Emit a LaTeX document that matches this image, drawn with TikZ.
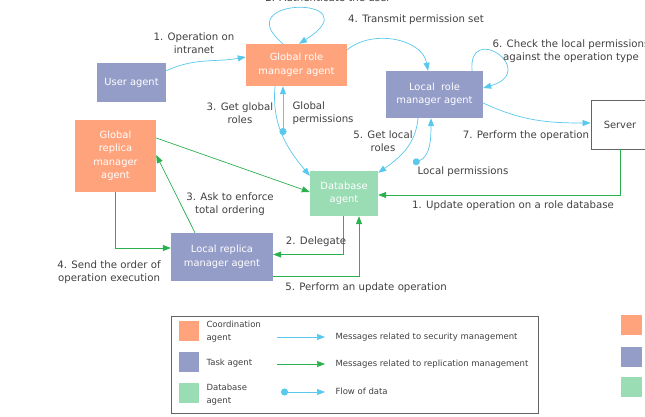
\documentclass[tikz,border=0pt]{standalone}
\usepackage{fontspec}
\setmainfont{DejaVu Sans}
\usetikzlibrary{arrows.meta, positioning}
\definecolor{coordorange}{RGB}{255,163,124}
\definecolor{taskblue}{RGB}{148,156,200}
\definecolor{dbgreen}{RGB}{154,220,180}
\definecolor{seccyan}{RGB}{88,200,236}
\definecolor{repgreen}{RGB}{42,176,78}
\definecolor{labelgray}{RGB}{64,64,64}
\definecolor{framegray}{RGB}{100,100,100}

\begin{document}
\begin{tikzpicture}[x=1pt, y=1pt,
    agent/.style={inner sep=0pt, align=center, text=white, font=\fontsize{9.9}{13.5}\selectfont},
    lbl/.style={text=labelgray, align=center, font=\fontsize{10.2}{13.5}\selectfont},
    leg/.style={text=labelgray, anchor=west, align=left, font=\fontsize{8.5}{13}\selectfont},
    sec/.style={seccyan, line width=0.7pt, -{Triangle[length=8pt, width=6pt]}},
    rep/.style={repgreen, line width=0.7pt, -{Triangle[length=8pt, width=6pt]}},
    data/.style={seccyan, line width=0.7pt, {Circle[length=7pt]}-{Triangle[length=8pt, width=6pt]}}]

    \useasboundingbox (0,0) rectangle (645,416);

    % Agents
    \node[agent, fill=taskblue, minimum width=69pt, minimum height=39pt] (user) at (131.5,333.5) {User agent};
    \node[agent, fill=coordorange, minimum width=101pt, minimum height=42pt] (grm) at (296.5,351) {Global role\\manager agent};
    \node[agent, fill=taskblue, minimum width=97pt, minimum height=47pt] (lrm) at (434.5,321.5) {Local \ role\\manager agent};
    \node[draw=framegray, fill=white, line width=0.8pt, minimum width=58pt, minimum height=49pt,
          text=labelgray, font=\fontsize{9.9}{12}\selectfont] (server) at (620,291.5) {Server};
    \node[agent, fill=coordorange, minimum width=81pt, minimum height=72pt] (grep) at (115.5,260) {Global\\replica\\manager\\agent};
    \node[agent, fill=dbgreen, minimum width=68pt, minimum height=45pt] (db) at (344,222.5) {Database\\agent};
    \node[agent, fill=taskblue, minimum width=102pt, minimum height=48pt] (lrep) at (222,159) {Local replica\\manager agent};

    % Data sources
    \coordinate (gperm) at (283,281);
    \coordinate (lperm) at (413,253);

    % Security management
    \draw[sec] ([yshift=-8pt]user.north east) to[out=25, in=190] ([yshift=8pt]grm.west);
    \draw[sec] ([xshift=-13.5pt]grm.north) .. controls +(-58,48) and +(76,48) .. ([xshift=2.5pt]grm.north);
    \draw[sec] ([yshift=-6pt]grm.north east) to[out=40, in=100] ([xshift=-6.5pt]lrm.north);
    \draw[sec] ([xshift=-21.5pt]grm.south) to[out=-95, in=130] ([yshift=-5pt]db.north west);
    \draw[data] (gperm) -- ([xshift=-13.5pt]grm.south);
    \draw[sec] ([xshift=-16.5pt]lrm.south) to[out=-95, in=35] ([yshift=-2pt]db.north east);
    \draw[data] (lperm) to[out=20, in=-90] ([xshift=-3.5pt]lrm.south);
    \draw[sec] ([xshift=37.5pt]lrm.north) .. controls +(-4,50) and +(57,17) .. ([yshift=6.5pt]lrm.east);
    \draw[sec] ([yshift=-8.5pt]lrm.east) to[out=-25, in=180] ([yshift=1.5pt]server.west);

    % Replication management
    \draw[rep] (server.south) |- ([yshift=-1.5pt]db.east);
    \draw[rep] ([yshift=18pt]grep.east) -- ([yshift=1.5pt]db.west);
    \draw[rep] ([xshift=-27pt]lrep.north) -- ([yshift=1pt]grep.east);
    \draw[rep] (grep.south) |- ([yshift=9pt]lrep.west);
    \draw[rep] ([xshift=-1pt]db.south) |- ([yshift=2.5pt]lrep.east);
    \draw[rep] ([yshift=-19pt]lrep.east) -| ([xshift=15pt]db.south);

    % Labels
    \node[lbl] (l1) at (194,373) {1. Operation on\\intranet};
    \node[lbl] (l2) at (328,418) {2. Authenticate the user};
    \node[lbl] (l4) at (416,396) {4. Transmit permission set};
    \node[lbl] (l3) at (240,303) {3. Get global\\roles};
    \node[lbl, anchor=west, align=left] (lgp) at (289,303) {Global\\permissions};
    \node[lbl] (l5) at (383,275) {5. Get local\\roles};
    \node[lbl] (llp) at (463,244) {Local permissions};
    \node[lbl] (l6) at (571,365) {6. Check the local permissions\\against the operation type};
    \node[lbl] (l7) at (526,280) {7. Perform the operation};
    \node[lbl] (r1) at (513,210) {1. Update operation on a role database};
    \node[lbl] (r3) at (230,212) {3. Ask to enforce\\total ordering};
    \node[lbl] (r4) at (109,144) {4. Send the order of\\operation execution};
    \node[lbl] (r2) at (316,174) {2. Delegate};
    \node[lbl] (r5) at (366,128) {5. Perform an update operation};

    % Legend
    \node[draw=framegray, line width=0.8pt, minimum width=367pt, minimum height=97pt, inner sep=0pt] (legend) at (354.5,51.5) {};
    \node[fill=coordorange, minimum size=20pt, inner sep=0pt] (swcoord) at (189,85) {};
    \node[fill=taskblue, minimum size=20pt, inner sep=0pt] (swtask) at (189,54) {};
    \node[fill=dbgreen, minimum size=20pt, inner sep=0pt] (swdb) at (189,23) {};
    \node[leg] (tcoord) at (203,84.5) {Coordination\\agent};
    \node[leg] (ttask) at (203,53) {Task agent};
    \node[leg] (tdb) at (203,21.5) {Database\\agent};

    \coordinate (secA) at (277,79);
    \coordinate (secB) at (325,79);
    \coordinate (repA) at (277,52);
    \coordinate (repB) at (325,52);
    \coordinate (datA) at (281,24);
    \coordinate (datB) at (325,24);
    \draw[sec] (secA) -- (secB);
    \draw[rep] (repA) -- (repB);
    \draw[data] (datA) -- (datB);
    \node[leg] (tsec) at (332,79) {Messages related to security management};
    \node[leg] (trep) at (332,52) {Messages related to replication management};
    \node[leg] (tdat) at (332,25) {Flow of data};

    % Side swatches
    \node[fill=coordorange, minimum width=21pt, minimum height=20pt, inner sep=0pt] (sidecoord) at (631.5,91) {};
    \node[fill=taskblue, minimum width=21pt, minimum height=20pt, inner sep=0pt] (sidetask) at (631.5,59) {};
    \node[fill=dbgreen, minimum width=21pt, minimum height=20pt, inner sep=0pt] (sidedb) at (631.5,29) {};
\end{tikzpicture}
\end{document}
